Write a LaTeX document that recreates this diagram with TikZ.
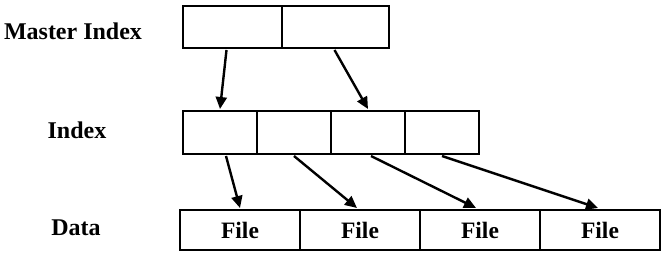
\documentclass[tikz,border=0pt]{standalone}
\usepackage{fontspec}
\setmainfont{Liberation Serif}
\usetikzlibrary{calc,arrows.meta}
\begin{document}
\begin{tikzpicture}[x=1pt,y=-1pt,
  cell/.style={draw,line width=2pt,rectangle,inner sep=0pt,anchor=north west},
  mcell/.style={cell,minimum width=#1pt,minimum height=42pt},
  icell/.style={cell,minimum width=74pt,minimum height=43pt},
  dcell/.style={cell,minimum width=120pt,minimum height=40pt,font=\fontsize{23.5}{26}\selectfont\bfseries},
  lab/.style={font=\fontsize{24}{28}\selectfont\bfseries,inner sep=0pt},
  arr/.style={line width=2.4pt,-{Triangle[length=12pt,width=11pt]}}]
\useasboundingbox (0,0) rectangle (665,256);
\node[mcell=99] (m1) at (182,5) {};
\node[mcell=107] (m2) at (281,5) {};
\node[icell] (i1) at (182,110) {};
\node[icell] (i2) at (256,110) {};
\node[icell] (i3) at (330,110) {};
\node[icell] (i4) at (404,110) {};
\node[dcell] (d1) at (179,209) {File};
\node[dcell] (d2) at (299,209) {File};
\node[dcell] (d3) at (419,209) {File};
\node[dcell] (d4) at (539,209) {File};
\node[lab] (lm) at (73,31) {Master Index};
\node[lab] (li) at (77,130) {Index};
\node[lab] (ld) at (76,228) {Data};
\draw[arr] ($(m1.south)+(-6,1)$) -- ($(i1.north)+(0,-1)$);
\draw[arr] ($(m2.south)+(-1,1)$) -- ($(i3.north)+(0,-1)$);
\draw[arr] ($(i1.south)+(6,1)$) -- ($(d1.north)+(0,-1)$);
\draw[arr] ($(i2.south)+(0,1)$) -- ($(d2.north)+(-3,-1)$);
\draw[arr] ($(i3.south)+(3,1)$) -- ($(d3.north)+(-4,-1)$);
\draw[arr] ($(i4.south)+(0,1)$) -- ($(d4.north)+(-2,-1)$);
\end{tikzpicture}
\end{document}
